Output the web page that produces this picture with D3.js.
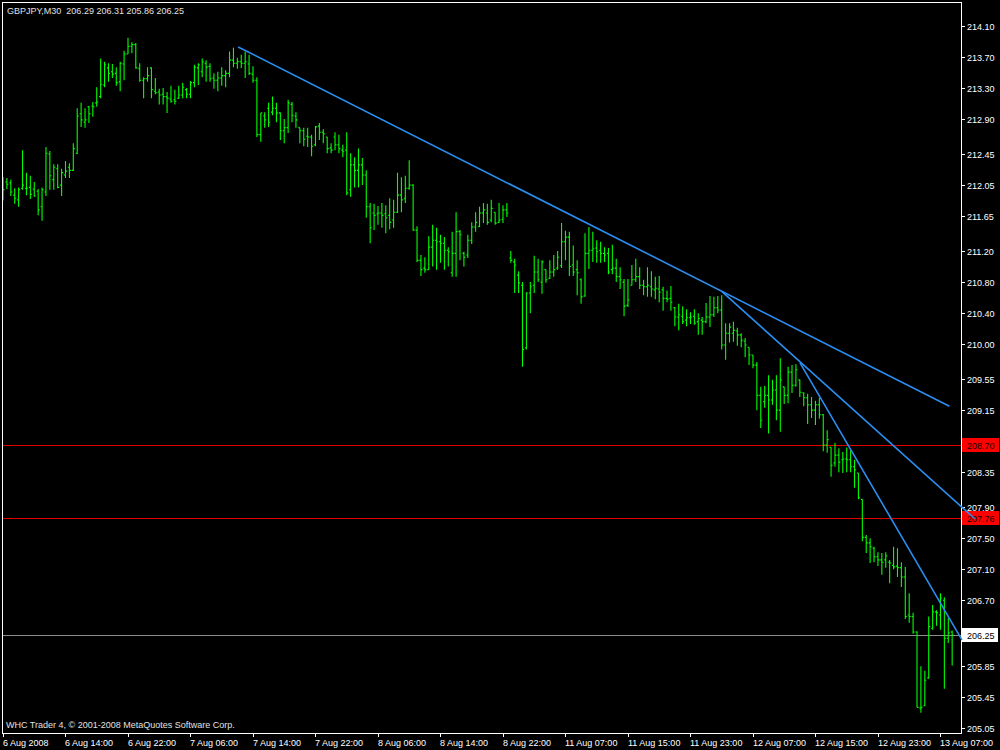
<!DOCTYPE html>
<html><head><meta charset="utf-8">
<script src="https://cdn.jsdelivr.net/npm/d3@7"></script>
<style>body{margin:0;background:#000}svg{display:block}</style>
</head><body><svg id="c" width="1000" height="750"></svg>
<script>
const symbolTitle = "GBPJPY,M30";
const opens = [
212.09,212.09,212.08,211.92,211.86,212.01,212.01,212.02,212.00,211.97,
211.77,211.96,212.45,212.12,212.26,212.05,212.18,212.28,212.24,212.46,
212.97,212.86,213.06,213.07,213.11,213.19,213.34,213.56,213.51,213.49,
213.38,213.61,213.74,213.84,213.86,213.55,213.40,213.42,213.56,213.26,
213.25,213.22,213.19,213.16,213.15,213.17,213.21,213.28,213.22,213.37,
213.56,213.51,213.62,213.58,213.43,213.40,213.43,213.46,213.49,213.66,
213.62,213.64,213.62,213.61,213.48,213.40,212.70,212.94,213.04,212.99,
213.04,212.98,212.75,212.79,213.09,212.94,212.79,212.75,212.68,212.67,
212.57,212.81,212.73,212.67,212.53,212.67,212.57,212.50,212.50,211.99,
212.31,212.24,212.31,212.18,211.77,211.69,211.68,211.69,211.68,211.66,
211.60,211.70,211.92,211.88,212.01,212.05,211.47,211.08,210.98,210.96,
211.25,211.34,211.32,211.30,211.21,210.92,211.17,211.45,211.17,211.15,
211.34,211.51,211.52,211.69,211.69,211.60,211.70,211.57,211.61,211.73,
211.11,211.06,210.89,210.76,209.95,210.66,210.76,210.93,210.80,210.96,
210.85,210.93,210.98,211.01,211.32,211.38,211.02,210.96,210.83,210.62,
211.17,211.21,211.24,211.21,211.17,211.17,210.96,210.98,210.87,210.80,
210.50,210.76,210.83,210.87,210.76,210.74,210.74,210.70,210.71,210.70,
210.59,210.59,210.47,210.35,210.36,210.31,210.34,210.36,210.29,210.31,
210.29,210.35,210.38,210.47,210.44,209.99,210.14,210.14,210.17,210.12,
210.04,209.96,209.86,209.73,209.34,209.26,209.34,209.28,209.41,209.15,
209.45,209.34,209.64,209.47,209.54,209.37,209.31,209.22,209.15,209.22,
209.09,208.70,208.67,208.47,208.57,208.51,208.52,208.51,208.42,208.34,
208.00,207.51,207.44,207.37,207.26,207.22,207.22,207.19,207.15,207.14,
207.12,207.00,206.51,206.49,206.29,205.31,205.34,205.70,206.34,206.55,
206.51,206.70,206.21,206.29];
const highs = [
212.15,212.14,212.12,212.01,212.02,212.50,212.21,212.17,212.09,212.00,
212.02,212.54,212.49,212.32,212.32,212.26,212.36,212.33,212.59,213.04,
213.11,213.04,213.07,213.12,213.31,213.68,213.64,213.62,213.61,213.57,
213.64,213.78,213.95,213.89,213.88,213.62,213.44,213.57,213.57,213.43,
213.29,213.30,213.25,213.33,213.28,213.33,213.37,213.30,213.39,213.60,
213.62,213.68,213.66,213.62,213.49,213.51,213.57,213.53,213.77,213.82,
213.69,213.73,213.77,213.73,213.58,213.44,212.98,212.99,213.11,213.19,
213.11,212.99,212.90,213.15,213.12,212.99,212.79,212.79,212.79,212.70,
212.81,212.85,212.77,212.67,212.59,212.73,212.70,212.57,212.73,212.46,
212.41,212.52,212.40,212.24,211.82,211.81,211.78,211.82,211.79,211.88,
211.86,212.21,212.15,212.17,212.37,212.06,211.52,211.15,211.12,211.39,
211.54,211.50,211.41,211.38,211.25,211.45,211.70,211.47,211.19,211.41,
211.57,211.70,211.77,211.82,211.81,211.86,211.70,211.82,211.79,211.82,
211.20,211.10,210.94,210.80,210.67,210.80,211.14,211.10,211.08,210.96,
211.08,211.15,211.20,211.56,211.46,211.45,211.27,211.08,210.85,211.43,
211.51,211.45,211.34,211.32,211.25,211.24,211.28,211.10,210.99,210.84,
210.84,211.02,211.10,210.99,210.83,210.99,210.94,210.87,210.88,210.74,
210.69,210.75,210.48,210.52,210.49,210.45,210.41,210.45,210.40,210.35,
210.53,210.62,210.61,210.62,210.63,210.27,210.27,210.29,210.21,210.14,
210.08,209.96,209.86,209.77,209.45,209.46,209.60,209.54,209.60,209.82,
209.45,209.71,209.73,209.74,209.54,209.38,209.36,209.32,209.27,209.31,
209.10,208.89,208.67,208.73,208.66,208.61,208.67,208.64,208.51,208.34,
208.00,207.54,207.50,207.39,207.32,207.31,207.32,207.22,207.39,207.37,
207.19,207.13,206.79,206.54,206.30,205.85,205.79,206.49,206.64,206.57,
206.79,206.74,206.47,206.31];
const lows = [
211.85,212.00,211.91,211.81,211.77,211.99,211.92,211.87,211.90,211.66,
211.59,211.91,211.99,211.99,212.01,211.91,212.14,212.14,212.23,212.45,
212.80,212.79,212.85,212.93,213.06,213.17,213.31,213.38,213.43,213.33,
213.26,213.40,213.74,213.75,213.55,213.38,213.17,213.38,213.17,213.22,
213.09,213.09,212.98,213.11,213.09,213.16,213.17,213.17,213.17,213.31,
213.34,213.44,213.38,213.38,213.29,213.26,213.33,213.31,213.44,213.57,
213.55,213.56,213.43,213.47,213.37,212.67,212.61,212.79,212.80,212.95,
212.86,212.63,212.59,212.72,212.86,212.79,212.59,212.55,212.54,212.42,
212.55,212.63,212.59,212.46,212.46,212.50,212.46,212.41,211.92,211.90,
212.02,212.02,212.05,211.63,211.30,211.47,211.54,211.50,211.43,211.48,
211.50,211.69,211.70,211.82,211.99,211.46,211.06,210.88,210.92,210.96,
211.00,210.96,211.05,210.96,211.00,210.87,210.87,211.08,211.00,211.11,
211.29,211.45,211.51,211.56,211.54,211.57,211.54,211.56,211.56,211.64,
211.05,210.66,210.66,209.71,209.93,210.40,210.66,210.80,210.65,210.79,
210.84,210.87,210.96,210.98,211.08,210.88,210.88,210.63,210.52,210.61,
210.97,211.06,211.05,211.05,211.06,210.90,210.90,210.80,210.71,210.36,
210.48,210.76,210.80,210.71,210.63,210.61,210.61,210.58,210.54,210.43,
210.54,210.43,210.23,210.18,210.26,210.23,210.26,210.25,210.12,210.12,
210.27,210.22,210.35,210.40,209.93,209.80,210.02,210.03,209.98,209.96,
209.83,209.73,209.69,209.15,208.92,209.18,208.85,209.22,209.02,208.87,
209.23,209.24,209.37,209.45,209.32,209.20,208.97,209.05,208.96,209.04,
208.62,208.60,208.29,208.42,208.35,208.34,208.35,208.35,208.15,208.00,
207.46,207.31,207.18,207.19,207.14,207.03,207.12,206.92,207.10,207.00,
206.87,206.46,206.41,206.27,205.32,205.25,205.34,205.69,206.32,206.37,
206.32,205.56,206.15,205.86];
const closes = [
211.99,212.06,211.96,211.88,211.99,212.05,212.01,211.93,211.91,211.73,
211.99,212.46,212.17,212.28,212.02,212.21,212.23,212.24,212.52,212.94,
212.89,212.89,212.97,213.06,213.12,213.35,213.60,213.49,213.48,213.37,
213.62,213.74,213.84,213.86,213.56,213.40,213.42,213.46,213.28,213.24,
213.21,213.19,213.17,213.13,213.13,213.21,213.31,213.22,213.37,213.57,
213.60,213.64,213.57,213.42,213.40,213.43,213.46,213.49,213.66,213.62,
213.64,213.62,213.64,213.49,213.40,212.70,212.98,212.89,212.86,213.04,
212.98,212.75,212.79,213.11,212.95,212.89,212.75,212.64,212.67,212.55,
212.80,212.73,212.71,212.52,212.50,212.57,212.52,212.48,211.95,212.31,
212.24,212.31,212.18,211.77,211.50,211.66,211.69,211.66,211.63,211.57,
211.70,211.92,211.86,212.01,212.05,211.47,211.08,210.96,210.96,211.25,
211.34,211.32,211.30,211.21,211.19,211.17,211.45,211.41,211.12,211.34,
211.51,211.57,211.69,211.73,211.57,211.75,211.56,211.60,211.73,211.69,
211.08,211.02,210.79,209.93,210.66,210.74,210.93,210.83,211.06,210.83,
210.93,210.96,211.12,211.32,211.38,211.00,210.93,210.92,210.61,211.17,
211.21,211.23,211.19,211.17,211.15,210.93,210.98,210.87,210.83,210.49,
210.57,210.83,210.87,210.76,210.74,210.76,210.71,210.72,210.67,210.59,
210.58,210.54,210.35,210.38,210.29,210.34,210.35,210.27,210.33,210.29,
210.35,210.38,210.47,210.44,209.99,210.14,210.22,210.18,210.12,210.05,
209.99,209.86,209.73,209.34,209.02,209.34,209.28,209.41,209.15,209.54,
209.34,209.64,209.47,209.67,209.38,209.31,209.22,209.15,209.22,209.09,
208.70,208.77,208.44,208.57,208.48,208.52,208.51,208.42,208.38,208.02,
207.51,207.44,207.39,207.26,207.22,207.19,207.27,207.18,207.13,207.12,
207.00,206.49,206.49,206.29,205.32,205.32,205.67,206.36,206.55,206.54,
206.73,206.21,206.28,206.25];

const priceTicks = [214.10,213.70,213.30,212.90,212.45,212.05,211.65,211.20,210.80,210.40,210.00,
  209.55,209.15,208.75,208.35,207.90,207.50,207.10,206.70,205.85,205.45,205.05];
const timeTickBars = [0,16,32,48,64,80,96,112,128,144,160,176,192,208,224,240];
const timeTickLabels = ["6 Aug 2008","6 Aug 14:00","6 Aug 22:00","7 Aug 06:00","7 Aug 14:00","7 Aug 22:00",
  "8 Aug 06:00","8 Aug 14:00","8 Aug 22:00","11 Aug 07:00","11 Aug 15:00","11 Aug 23:00",
  "12 Aug 07:00","12 Aug 15:00","12 Aug 23:00","13 Aug 07:00"];
const redLevels = [208.70, 207.76];
const redLevelLabels = ["208.70", "207.76"];
const bidLevel = 206.25;
const trendFromBar = [60.2, 184.0, 204.05];
const trendFromPrice = [213.83, 210.68, 209.76];
const trendToBar = [242.3, 248.8, 245.5];
const trendToPrice = [209.20, 207.75, 206.19];
const copyright = "WHC Trader 4, \u00a9 2001-2008 MetaQuotes Software Corp.";

const W = 1000, H = 750;
const plotL = 2, plotR = 961, plotT = 2, plotB = 733;
const FONT = "'Liberation Sans', Arial, sans-serif";
const svg = d3.select("#c");
svg.append("rect").attr("width", W).attr("height", H).attr("fill", "#000");

const n = opens.length;
const x = d3.scaleLinear().domain([0, n - 1]).range([3, 3 + (n - 1) * 3.906]);
const y = d3.scaleLinear().domain([205.05, 214.10]).range([728.3, 26]);

svg.append("defs").append("clipPath").attr("id", "plot")
  .append("rect").attr("x", plotL).attr("y", plotT).attr("width", plotR - plotL).attr("height", plotB - plotT);

const plot = svg.append("g").attr("clip-path", "url(#plot)");

// horizontal levels
plot.selectAll("line.red").data(redLevels).enter().append("line")
  .attr("x1", plotL).attr("x2", plotR).attr("y1", d => Math.round(y(d)) + 0.5).attr("y2", d => Math.round(y(d)) + 0.5)
  .attr("stroke", "#e00000").attr("stroke-width", 1.2).attr("shape-rendering", "crispEdges");
plot.append("line").attr("x1", plotL).attr("x2", plotR)
  .attr("y1", Math.round(y(bidLevel)) + 0.5).attr("y2", Math.round(y(bidLevel)) + 0.5)
  .attr("stroke", "#8c8c8c").attr("stroke-width", 1).attr("shape-rendering", "crispEdges");

// OHLC bars
const idx = d3.range(n);
plot.append("g").selectAll("path").data(idx).enter().append("path")
  .attr("d", i => {
    const xi = x(i);
    return `M${xi},${y(highs[i])}V${y(lows[i])}M${xi - 1.5},${y(opens[i])}H${xi}M${xi},${y(closes[i])}H${xi + 1.5}`;
  })
  .attr("stroke", "#00ff00").attr("stroke-width", 1.1).attr("fill", "none");

// frame
svg.append("rect").attr("x", plotL + 0.5).attr("y", plotT + 0.5).attr("width", plotR - plotL).attr("height", plotB - plotT)
  .attr("fill", "none").attr("stroke", "#ffffff").attr("stroke-width", 1);

// price axis ticks and labels
const pa = svg.append("g");
priceTicks.forEach(p => {
  const yy = Math.round(y(p)) + 0.5;
  pa.append("line").attr("x1", plotR + 1).attr("x2", plotR + 4).attr("y1", yy).attr("y2", yy).attr("stroke", "#fff");
  pa.append("text").attr("x", 967).attr("y", yy + 3.5).text(p.toFixed(2))
    .attr("fill", "#ffffff").attr("font-family", FONT).attr("font-size", 9);
});

// red level labels
redLevels.forEach((p, k) => {
  const yy = Math.round(y(p));
  pa.append("rect").attr("x", 962).attr("y", yy - 7).attr("width", 37).attr("height", 14).attr("fill", "#ff0000");
  pa.append("text").attr("x", 967).attr("y", yy + 3.5).text(redLevelLabels[k])
    .attr("fill", "#200000").attr("font-family", FONT).attr("font-size", 9);
});
// bid label
{
  const yy = Math.round(y(bidLevel));
  pa.append("rect").attr("x", 962).attr("y", yy - 7).attr("width", 36).attr("height", 14).attr("fill", "#ffffff");
  pa.append("text").attr("x", 967).attr("y", yy + 3.5).text(bidLevel.toFixed(2))
    .attr("fill", "#000").attr("font-family", FONT).attr("font-size", 9);
}

// time axis
const ta = svg.append("g");
timeTickBars.forEach((b, k) => {
  const xx = Math.round(x(b)) + 0.5;
  ta.append("line").attr("x1", xx).attr("x2", xx).attr("y1", plotB).attr("y2", plotB + 4).attr("stroke", "#fff");
  ta.append("text").attr("x", xx - 0.5).attr("y", 745.5).text(timeTickLabels[k])
    .attr("fill", "#ffffff").attr("font-family", FONT).attr("font-size", 9);
});

// trend lines (drawn over labels)
svg.append("g").selectAll("line").data(d3.range(trendFromBar.length)).enter().append("line")
  .attr("x1", k => x(trendFromBar[k])).attr("y1", k => y(trendFromPrice[k]))
  .attr("x2", k => x(trendToBar[k])).attr("y2", k => y(trendToPrice[k]))
  .attr("stroke", "#2a8ef0").attr("stroke-width", 1.6);

// texts
svg.append("text").attr("x", 7).attr("y", 13.5)
  .text(`${symbolTitle}  ${opens[n-1].toFixed(2)} ${highs[n-1].toFixed(2)} ${lows[n-1].toFixed(2)} ${closes[n-1].toFixed(2)}`)
  .attr("fill", "#e0e0e0").attr("font-family", FONT).attr("font-size", 9)
  .style("white-space", "pre");
svg.append("text").attr("x", 6).attr("y", 727.5).text(copyright)
  .attr("fill", "#e0e0e0").attr("font-family", FONT).attr("font-size", 9);
</script></body></html>
